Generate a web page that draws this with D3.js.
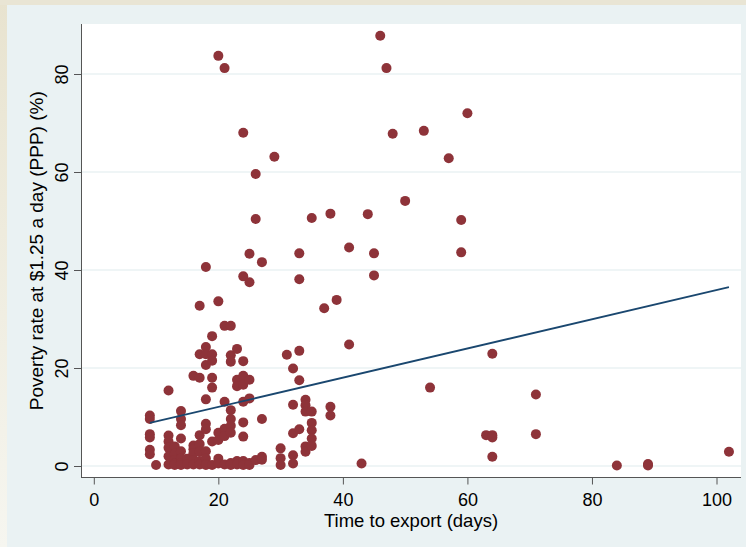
<!DOCTYPE html>
<html>
<head>
<meta charset="utf-8">
<script src="https://cdn.jsdelivr.net/npm/d3@7"></script>
<style>
  html, body { margin: 0; padding: 0; background: #eaf2f3; }
  svg { display: block; }
</style>
</head>
<body>
<svg id="chart" width="746" height="547"></svg>
<script>
// Time to export (days), one entry per distinct value
const exportDays = [9, 10, 12, 13, 14, 15, 16, 17, 18, 19, 20, 21, 22, 23, 24, 25, 26, 27,
  29, 30, 31, 32, 33, 34, 35, 37, 38, 39, 41, 43, 44, 45, 46, 47, 48, 50, 53, 54, 57, 59,
  60, 63, 64, 71, 84, 89, 102];

// Poverty rate at $1.25 a day (PPP, %) for the countries at each export time above
const povertyByDay = [
  [10.3, 9.6, 6.5, 5.8, 3.3, 2.4],
  [0.2],
  [15.4, 6.2, 5.0, 3.7, 2.0, 0.3],
  [4.0, 2.5, 1.2, 0.5, 0.2],
  [11.2, 9.6, 8.3, 5.6, 3.0, 1.5, 0.6, 0.2],
  [1.5, 0.3],
  [18.4, 4.2, 3.4, 2.6, 1.2, 0.3],
  [32.7, 22.8, 18.0, 6.3, 4.5, 2.9, 1.0, 0.3],
  [40.6, 24.3, 22.8, 20.6, 13.6, 8.6, 7.5, 3.0, 1.5, 0.4, 0.2],
  [26.5, 22.8, 21.5, 18.0, 16.0, 5.0, 0.2],
  [83.7, 33.6, 6.8, 5.3, 1.5, 0.5],
  [81.2, 28.6, 13.1, 7.6, 6.1, 0.3],
  [28.6, 22.6, 21.3, 11.4, 9.6, 8.2, 6.8, 0.6, 0.2],
  [23.9, 17.6, 16.3, 1.0, 0.3],
  [68.0, 38.7, 21.4, 18.4, 16.6, 13.1, 8.9, 6.0, 1.0, 0.2],
  [43.3, 37.5, 17.6, 13.8, 0.6, 0.2],
  [59.6, 50.4, 1.2],
  [41.6, 9.6, 1.9, 1.3],
  [63.1],
  [3.6, 1.6, 0.2],
  [22.7],
  [19.9, 12.5, 6.7, 2.2, 0.5],
  [43.4, 38.1, 23.5, 17.5, 7.5],
  [13.5, 12.4, 11.1, 4.0, 2.9],
  [50.6, 11.1, 8.8, 7.3, 5.6, 4.1],
  [32.2],
  [51.5, 12.1, 10.3],
  [33.9],
  [44.6, 24.8],
  [0.5],
  [51.4],
  [43.4, 38.9],
  [87.8],
  [81.2],
  [67.8],
  [54.1],
  [68.4],
  [16.0],
  [62.8],
  [50.2, 43.6],
  [72.0],
  [6.3],
  [22.9, 6.3, 5.8, 1.9],
  [14.6, 6.5],
  [0.1],
  [0.4, 0.1],
  [2.9]
];

const xTicks = [0, 20, 40, 60, 80, 100];
const yTicks = [0, 20, 40, 60, 80];

// Linear fit of poverty rate on export time
const fitIntercept = 6.1;
const fitSlope = 0.298;

const xTitle = "Time to export (days)";
const yTitle = "Poverty rate at $1.25 a day (PPP) (%)";

// ---- layout ----
const W = 746, H = 547;
const plot = { left: 81, right: 741, top: 24, bottom: 477.5 };
const colors = {
  page: "#e9e5d4",
  graph: "#eaf2f3",
  plot: "#ffffff",
  grid: "#eaf2f3",
  axis: "#555555",
  text: "#000000",
  dot: "#8e3339",
  fit: "#1a476f"
};
const fontFamily = "'Liberation Sans', Arial, Helvetica, sans-serif";

const points = exportDays.flatMap((d, i) => povertyByDay[i].map(v => ({ days: d, rate: v })));

const x = d3.scaleLinear().domain([0, 100]).range([93.8, 716.5]);
const y = d3.scaleLinear().domain([0, 80]).range([466, 74]);

const svg = d3.select("#chart");

// page edge (top and left) and graph region
const defs = svg.append("defs");
const edge = defs.append("linearGradient").attr("id", "edgeFade")
  .attr("x1", 0).attr("y1", 0).attr("x2", 0).attr("y2", 1);
edge.append("stop").attr("offset", 0).attr("stop-color", "#e8e3cf");
edge.append("stop").attr("offset", 1).attr("stop-color", "#f6f6f0");

svg.append("rect").attr("width", W).attr("height", H).attr("fill", colors.graph);
svg.append("rect").attr("x", 0).attr("y", 0).attr("width", 7).attr("height", H).attr("fill", "url(#edgeFade)");
svg.append("rect").attr("x", 0).attr("y", 0).attr("width", W).attr("height", 5).attr("fill", colors.page);

// plot region
svg.append("rect")
  .attr("x", plot.left).attr("y", plot.top)
  .attr("width", plot.right - plot.left).attr("height", plot.bottom - plot.top)
  .attr("fill", colors.plot);

// horizontal grid lines
svg.append("g").selectAll("line").data(yTicks).join("line")
  .attr("x1", plot.left).attr("x2", plot.right)
  .attr("y1", d => y(d)).attr("y2", d => y(d))
  .attr("stroke", colors.grid).attr("stroke-width", 1.6);

// y axis
const yAxis = svg.append("g")
  .attr("transform", `translate(${plot.left},0)`)
  .call(d3.axisLeft(y).tickValues(yTicks).tickSize(7).tickSizeOuter(0).tickFormat(d3.format("d")));
yAxis.select(".domain").remove();
yAxis.selectAll(".tick line").attr("stroke", colors.axis);
yAxis.selectAll(".tick text")
  .attr("transform", "rotate(-90)")
  .attr("x", 0).attr("y", -13.5).attr("dy", 0)
  .attr("text-anchor", "middle")
  .attr("fill", colors.text)
  .style("font-family", fontFamily).style("font-size", "18px");

// x axis
const xAxis = svg.append("g")
  .attr("transform", `translate(0,${plot.bottom})`)
  .call(d3.axisBottom(x).tickValues(xTicks).tickSize(7).tickSizeOuter(0).tickFormat(d3.format("d")));
xAxis.select(".domain").remove();
xAxis.selectAll(".tick line").attr("stroke", colors.axis);
xAxis.selectAll(".tick text")
  .attr("y", 28.5).attr("dy", 0)
  .attr("fill", colors.text)
  .style("font-family", fontFamily).style("font-size", "18px");

// axis lines spanning the plot region
svg.append("line")
  .attr("x1", plot.left + 0.5).attr("x2", plot.left + 0.5)
  .attr("y1", plot.top).attr("y2", plot.bottom)
  .attr("stroke", colors.axis).attr("stroke-width", 1);
svg.append("line")
  .attr("x1", plot.left).attr("x2", plot.right)
  .attr("y1", plot.bottom).attr("y2", plot.bottom)
  .attr("stroke", colors.axis).attr("stroke-width", 1);

// scatter
svg.append("g").selectAll("circle").data(points).join("circle")
  .attr("cx", d => x(d.days))
  .attr("cy", d => y(d.rate))
  .attr("r", 5)
  .attr("fill", colors.dot);

// fitted line over the observed range of export times
const xExtent = d3.extent(exportDays);
const fitLine = xExtent.map(d => ({ days: d, rate: fitIntercept + fitSlope * d }));
svg.append("path")
  .datum(fitLine)
  .attr("d", d3.line().x(d => x(d.days)).y(d => y(d.rate)))
  .attr("fill", "none")
  .attr("stroke", colors.fit)
  .attr("stroke-width", 1.8);

// axis titles
svg.append("text")
  .attr("x", (plot.left + plot.right) / 2).attr("y", 527)
  .attr("text-anchor", "middle")
  .attr("fill", colors.text)
  .style("font-family", fontFamily).style("font-size", "18.5px")
  .text(xTitle);

svg.append("text")
  .attr("transform", `translate(43,${(plot.top + plot.bottom) / 2}) rotate(-90)`)
  .attr("text-anchor", "middle")
  .attr("fill", colors.text)
  .style("font-family", fontFamily).style("font-size", "19px")
  .text(yTitle);
</script>
</body>
</html>
